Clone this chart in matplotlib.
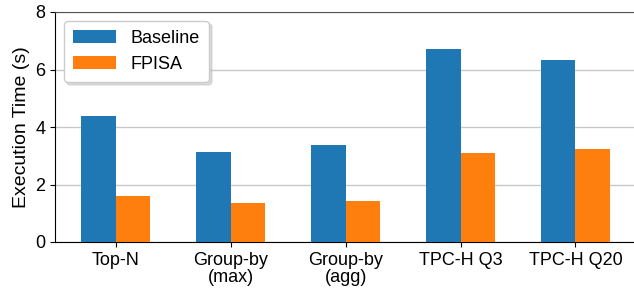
import numpy as np
import matplotlib.pyplot as plt

plt.rcParams['font.family'] = ['Liberation Sans', 'DejaVu Sans']

categories = ['Top-N', 'Group-by\n(max)', 'Group-by\n(agg)', 'TPC-H Q3', 'TPC-H Q20']
baseline = [4.38, 3.13, 3.37, 6.71, 6.33]
fpisa = [1.60, 1.36, 1.43, 3.10, 3.23]

x = np.arange(len(categories))
width = 0.3

fig = plt.figure(figsize=(6.34, 2.92), dpi=100)
ax = fig.add_axes([55 / 634, 50 / 292, 579 / 634, 230 / 292])
ax.bar(x - width / 2, baseline, width, color='#1f77b4', label='Baseline', zorder=3)
ax.bar(x + width / 2, fpisa, width, color='#ff7f0e', label='FPISA', zorder=3)

ax.set_xlim(-0.53, 4.51)
ax.set_ylim(0, 8)
ax.set_yticks([0, 2, 4, 6, 8])
ax.set_xticks(x)
ax.set_xticklabels(categories, fontsize=13, linespacing=1.0)
ax.tick_params(axis='y', labelsize=13)
ax.set_ylabel('Execution Time (s)', fontsize=14)
ax.yaxis.grid(True, color='#c8c8c8', linewidth=1, zorder=0)
ax.spines['top'].set_color('#555555')
ax.spines['right'].set_visible(False)

leg = ax.legend(loc='upper left', fontsize=13, frameon=True, shadow={'color': '#bbbbbb'},
                fancybox=True, handlelength=2.4, borderpad=0.5)

fig.savefig('out.png', dpi=100)
